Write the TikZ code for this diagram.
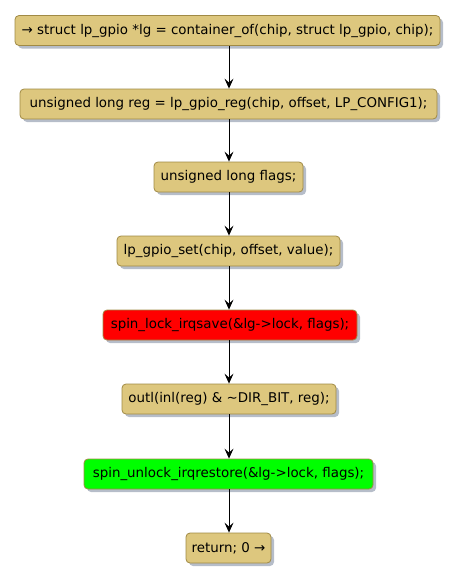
\documentclass[tikz,border=0pt]{standalone}
\usepackage{fontspec}
\setmainfont{DejaVu Sans}
\usetikzlibrary{arrows.meta,shadows}
\definecolor{actfill}{HTML}{DDC77E}
\definecolor{actline}{HTML}{A08A45}
\definecolor{shadowc}{HTML}{A4ACBC}
\definecolor{redfill}{HTML}{FF0000}
\definecolor{greenfill}{HTML}{00FF00}
\tikzset{
  act/.style={draw=actline, fill=actfill, line width=0.8pt, rounded corners=4pt,
    minimum height=30pt, inner xsep=2pt, inner ysep=0pt, font=\fontsize{13.4}{16}\selectfont,
    drop shadow={shadow xshift=3pt, shadow yshift=-3pt, fill=shadowc, opacity=0.8}},
  flow/.style={-{Stealth[length=10pt,width=9pt,inset=4pt]}, line width=0.9pt, black}
}
\begin{document}
\begin{tikzpicture}[x=1pt,y=-1pt]
\useasboundingbox (0,0) rectangle (461,581);
\node[act, minimum width=425pt] (n1) at (227.5,30.5) {→ struct lp\_gpio *lg = container\_of(chip, struct lp\_gpio, chip);};
\node[act, minimum width=417pt] (n2) at (228.5,104) {unsigned long reg = lp\_gpio\_reg(chip, offset, LP\_CONFIG1);};
\node[act, minimum width=149pt] (n3) at (228.5,177) {unsigned long flags;};
\node[act, minimum width=223pt] (n4) at (228.5,251) {lp\_gpio\_set(chip, offset, value);};
\node[act, fill=redfill, minimum width=254pt] (n5) at (230,325) {spin\_lock\_irqsave(\&lg->lock, flags);};
\node[act, minimum width=214pt] (n6) at (229,399) {outl(inl(reg) \& \textasciitilde DIR\_BIT, reg);};
\node[act, fill=greenfill, minimum width=289pt] (n7) at (228.5,474) {spin\_unlock\_irqrestore(\&lg->lock, flags);};
\node[act, minimum width=85pt] (n8) at (228.5,548) {return; 0 →};
\draw[flow] (n1.south -| 229,0) -- (n2.north -| 229,0);
\draw[flow] (n2.south -| 229,0) -- (n3.north -| 229,0);
\draw[flow] (n3.south -| 229,0) -- (n4.north -| 229,0);
\draw[flow] (n4.south -| 229,0) -- (n5.north -| 229,0);
\draw[flow] (n5.south -| 229,0) -- (n6.north -| 229,0);
\draw[flow] (n6.south -| 229,0) -- (n7.north -| 229,0);
\draw[flow] (n7.south -| 229,0) -- (n8.north -| 229,0);
\end{tikzpicture}
\end{document}
